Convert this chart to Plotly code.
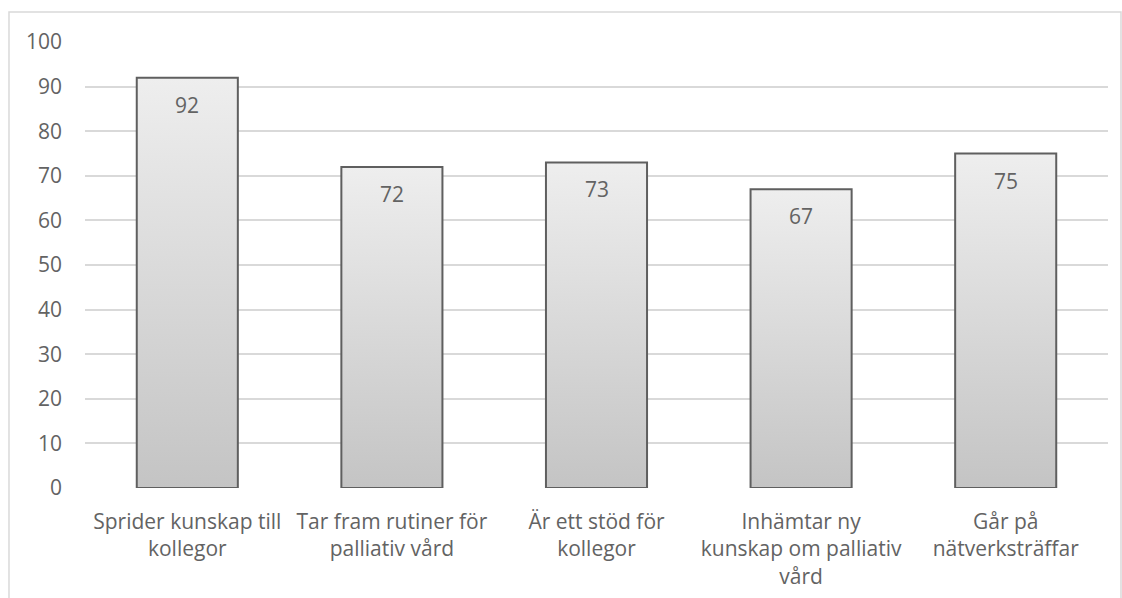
import plotly.graph_objects as go

categories = [
    "Sprider kunskap till<br>kollegor",
    "Tar fram rutiner för<br>palliativ vård",
    "Är ett stöd för<br>kollegor",
    "Inhämtar ny<br>kunskap om palliativ<br>vård",
    "Går på<br>nätverksträffar",
]
values = [92, 72, 73, 67, 75]
y_ticks = [0, 10, 20, 30, 40, 50, 60, 70, 80, 90, 100]

HALF_WIDTH = 0.247
TEXT_COLOR = "#636363"
FONT = "'Open Sans', sans-serif"
FONT_SIZE = 21

fig = go.Figure()

# Each bar is a closed polygon so it can carry a vertical gradient fill
for i, v in enumerate(values):
    xs = [i - HALF_WIDTH, i - HALF_WIDTH, i + HALF_WIDTH, i + HALF_WIDTH, i - HALF_WIDTH]
    ys = [0, v, v, 0, 0]
    fig.add_trace(go.Scatter(
        x=xs, y=ys, mode="lines", fill="toself",
        fillgradient=dict(type="vertical",
                          colorscale=[[0, "#c4c4c4"], [1, "#eeeeee"]]),
        line=dict(color="#5f5f5f", width=2),
        hoverinfo="skip", showlegend=False,
    ))
    fig.add_annotation(x=i, y=v, text=str(v), showarrow=False,
                       yshift=-27, font=dict(size=FONT_SIZE, color=TEXT_COLOR, family=FONT))

fig.update_layout(
    width=1122, height=598,
    margin=dict(l=85, r=14, t=42, b=110),
    paper_bgcolor="white", plot_bgcolor="white",
    font=dict(family=FONT, size=FONT_SIZE, color=TEXT_COLOR),
    xaxis=dict(
        range=[-0.5, 4.5], tickmode="array",
        tickvals=list(range(len(categories))), ticktext=categories,
        showgrid=False, zeroline=False, showline=False, ticks="",
        ticklabelstandoff=19, automargin=False,
        tickfont=dict(size=FONT_SIZE, color=TEXT_COLOR),
    ),
    yaxis=dict(
        range=[0, 100], tickmode="array", tickvals=y_ticks,
        showgrid=True, gridcolor="#d9d9d9", gridwidth=1.5,
        zeroline=False, showline=False, ticks="",
        ticklabelstandoff=22, automargin=False,
        tickfont=dict(size=FONT_SIZE, color=TEXT_COLOR),
    ),
    shapes=[dict(
        type="rect", xref="paper", yref="paper",
        x0=-0.0743, x1=1.0127, y0=-0.3, y1=1.0673,
        line=dict(color="#d9d9d9", width=1.5), layer="below",
    )],
)

fig.write_html("out.html")
